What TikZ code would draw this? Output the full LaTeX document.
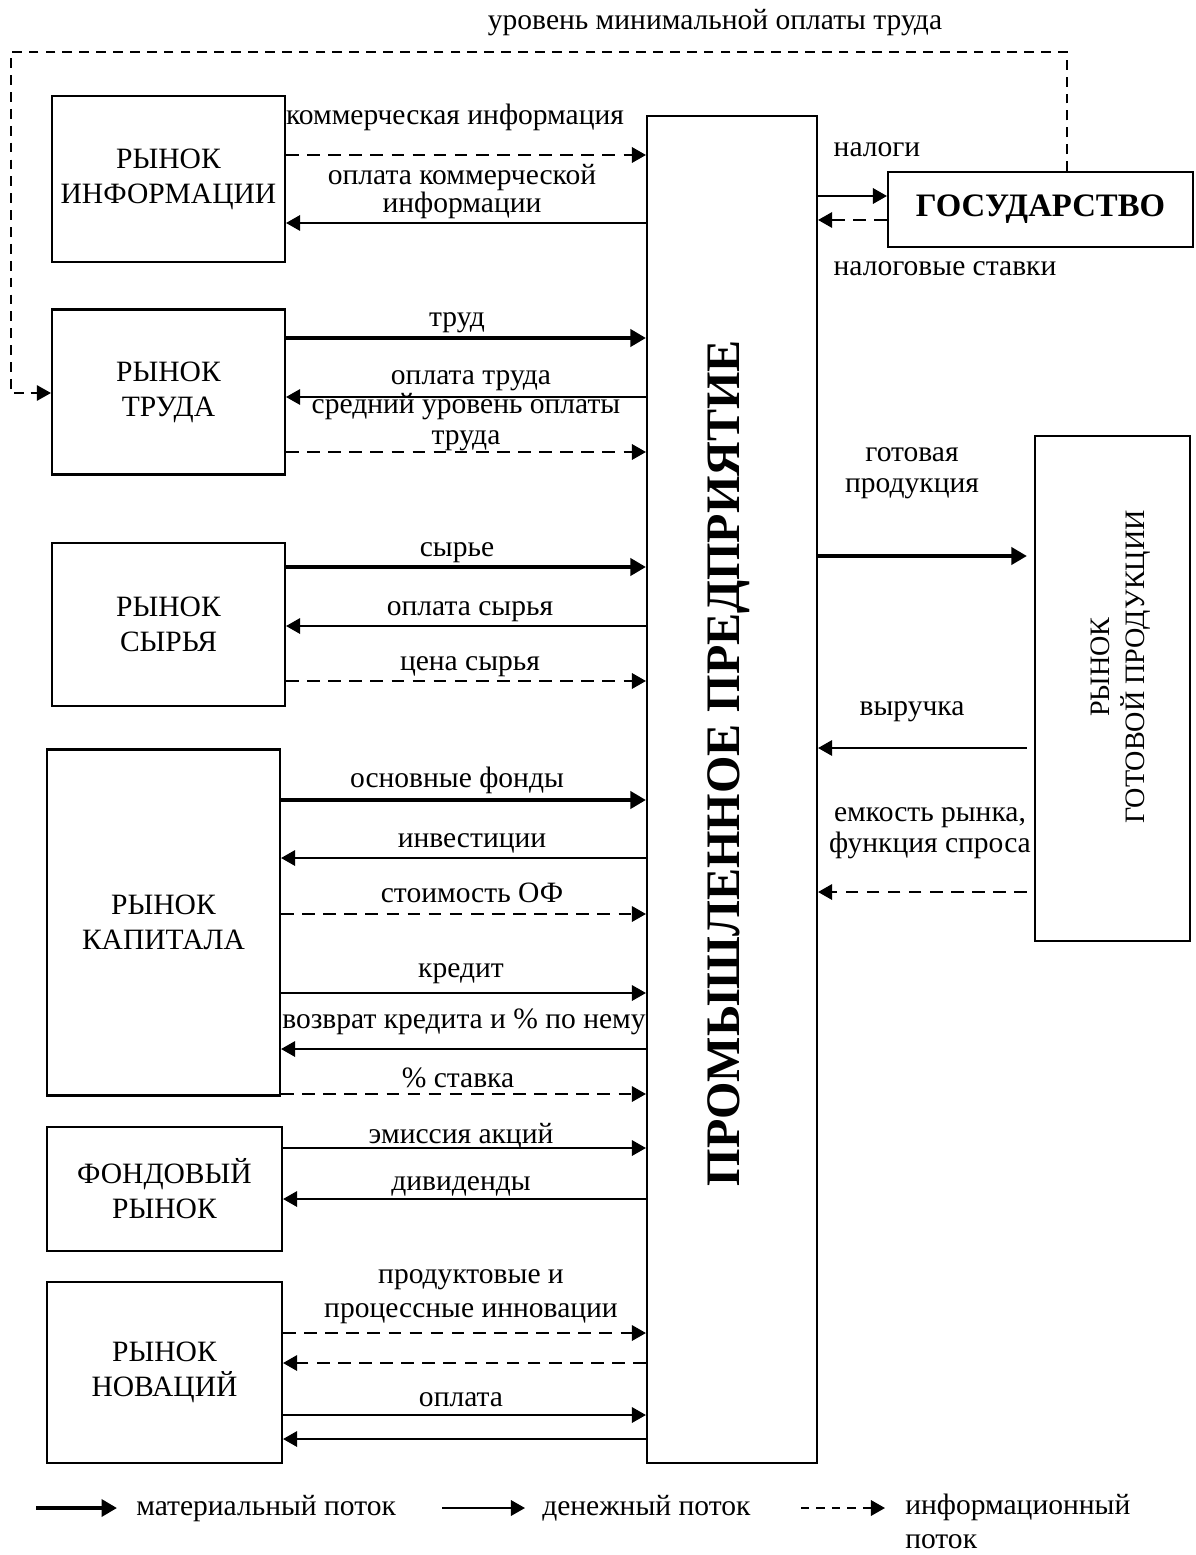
\documentclass[tikz,border=0pt]{standalone}
\usepackage{fontspec}
\setmainfont{Liberation Serif}
\usetikzlibrary{arrows.meta}
\newdimen\px
\px=0.025cm
\tikzset{
	market/.style={draw, line width=1.5pt, align=center, inner sep=0pt, font=\fontsize{21}{25}\selectfont},
	lbl/.style={align=center, inner sep=0pt, anchor=base, font=\fontsize{21}{22}\selectfont},
	matflow/.style={line width=3.5pt, -{Triangle[length=11pt,width=12pt]}},
	cashflow/.style={line width=1.4pt, -{Triangle[length=10pt,width=11pt]}},
	infoflow/.style={cashflow, dash pattern=on 9pt off 6pt},
	feedback/.style={line width=1pt, dash pattern=on 7pt off 5pt, -{Triangle[length=10pt,width=11pt]}}
}

\begin{document}
\begin{tikzpicture}[x=0.025cm, y=-0.025cm]
	\useasboundingbox (0,0) rectangle (1195,1555);
	% markets on the left
	\node[market, minimum width=233\px, minimum height=166\px] (info) at (168.5,179) {РЫНОК\\ИНФОРМАЦИИ};
	\node[market, minimum width=233\px, minimum height=165\px] (labor) at (168.5,392) {РЫНОК\\ТРУДА};
	\node[market, minimum width=233\px, minimum height=163\px] (raw) at (168.5,624.5) {РЫНОК\\СЫРЬЯ};
	\node[market, minimum width=233\px, minimum height=346\px] (capital) at (163.5,922.5) {РЫНОК\\КАПИТАЛА};
	\node[market, minimum width=235\px, minimum height=124\px] (stock) at (164.5,1189) {ФОНДОВЫЙ\\РЫНОК};
	\node[market, minimum width=235\px, minimum height=181\px] (innov) at (164.5,1372.5) {РЫНОК\\НОВАЦИЙ};
	% enterprise, state, product market
	\node[draw, line width=1.5pt, minimum width=170\px, minimum height=1347\px] (firm) at (732,789.5) {};
	\node[rotate=90, anchor=base, inner sep=0pt, font=\fontsize{34.2}{40}\selectfont\bfseries] (firmtitle) at (739,763) {ПРОМЫШЛЕННОЕ ПРЕДПРИЯТИЕ};
	\node[draw, line width=1.5pt, minimum width=305\px, minimum height=75\px, font=\fontsize{23.3}{28}\selectfont\bfseries] (state) at (1040.5,209.5) {ГОСУДАРСТВО};
	\node[draw, line width=1.5pt, minimum width=155\px, minimum height=505\px] (goods) at (1112.5,688.5) {};
	\node[rotate=90, align=center, inner sep=0pt, font=\fontsize{20}{25}\selectfont] (goodstitle) at (1121,667) {РЫНОК\\ГОТОВОЙ ПРОДУКЦИИ};

	% information market
	\draw[infoflow] (info.east |- 0,155) -- (firm.west |- 0,155);
	\draw[cashflow] (firm.west |- 0,223) -- (info.east |- 0,223);
	\node[lbl] (l-ci) at (455,125) {коммерческая информация};
	\node[lbl, font=\fontsize{21}{20}\selectfont] (l-pci) at (462,213) {оплата коммерческой\\информации};
	% labour market
	\draw[matflow] (labor.east |- 0,338) -- (firm.west |- 0,338);
	\draw[cashflow] (firm.west |- 0,397) -- (labor.east |- 0,397);
	\draw[infoflow] (labor.east |- 0,452) -- (firm.west |- 0,452);
	\node[lbl] (l-tr) at (457,327) {труд};
	\node[lbl] (l-ptr) at (471,385) {оплата труда};
	\node[lbl] (l-sur) at (466,444) {средний уровень оплаты\\труда};
	% raw materials
	\draw[matflow] (raw.east |- 0,567) -- (firm.west |- 0,567);
	\draw[cashflow] (firm.west |- 0,626) -- (raw.east |- 0,626);
	\draw[infoflow] (raw.east |- 0,681) -- (firm.west |- 0,681);
	\node[lbl] (l-s) at (457,556) {сырье};
	\node[lbl] (l-ps) at (470,615) {оплата сырья};
	\node[lbl] (l-cs) at (470,670) {цена сырья};
	% capital market
	\draw[matflow] (capital.east |- 0,800) -- (firm.west |- 0,800);
	\draw[cashflow] (firm.west |- 0,858) -- (capital.east |- 0,858);
	\draw[infoflow] (capital.east |- 0,914) -- (firm.west |- 0,914);
	\draw[cashflow] (capital.east |- 0,993) -- (firm.west |- 0,993);
	\draw[cashflow] (firm.west |- 0,1049) -- (capital.east |- 0,1049);
	\draw[infoflow] (capital.east |- 0,1094) -- (firm.west |- 0,1094);
	\node[lbl] (l-of) at (457,787) {основные фонды};
	\node[lbl] (l-inv) at (472,847) {инвестиции};
	\node[lbl] (l-cof) at (472,902) {стоимость ОФ};
	\node[lbl] (l-kr) at (461,977) {кредит};
	\node[lbl] (l-vk) at (464,1028) {возврат кредита и \% по нему};
	\node[lbl] (l-st) at (458,1087) {\% ставка};
	% stock market
	\draw[cashflow] (stock.east |- 0,1148) -- (firm.west |- 0,1148);
	\draw[cashflow] (firm.west |- 0,1199) -- (stock.east |- 0,1199);
	\node[lbl] (l-em) at (461,1143) {эмиссия акций};
	\node[lbl] (l-div) at (461,1190) {дивиденды};
	% innovations
	\draw[infoflow] (innov.east |- 0,1333) -- (firm.west |- 0,1333);
	\draw[infoflow] (firm.west |- 0,1363) -- (innov.east |- 0,1363);
	\draw[cashflow] (innov.east |- 0,1415) -- (firm.west |- 0,1415);
	\draw[cashflow] (firm.west |- 0,1439) -- (innov.east |- 0,1439);
	\node[lbl, font=\fontsize{21}{24}\selectfont] (l-pi) at (471,1317) {продуктовые и\\процессные инновации};
	\node[lbl] (l-op) at (461,1406) {оплата};

	% state
	\draw[cashflow] (firm.east |- 0,196) -- (state.west |- 0,196);
	\draw[infoflow] (state.west |- 0,220) -- (firm.east |- 0,220);
	\node[lbl] (l-nal) at (877,157) {налоги};
	\node[lbl] (l-ns) at (945,276) {налоговые ставки};
	\draw[feedback] (state.north -| 1067,0) -- (1067,52) -- (11,52) -- (11,393) -- (labor.west |- 0,393);
	\node[lbl] (l-mop) at (715,30) {уровень минимальной оплаты труда};

	% product market
	\draw[matflow, shorten >=5pt] (firm.east |- 0,556) -- (goods.west |- 0,556);
	\draw[cashflow, shorten <=5pt] (goods.west |- 0,748) -- (firm.east |- 0,748);
	\draw[infoflow, shorten <=5pt] (goods.west |- 0,892) -- (firm.east |- 0,892);
	\node[lbl, font=\fontsize{21}{21.5}\selectfont] (l-gp) at (912,492) {готовая\\продукция};
	\node[lbl] (l-vr) at (912,715) {выручка};
	\node[lbl, font=\fontsize{21}{21.5}\selectfont] (l-er) at (930,852) {емкость рынка,\\функция спроса};

	% legend
	\coordinate (lgA) at (36,1508);
	\coordinate (lgB) at (117,1508);
	\coordinate (lgC) at (442,1508);
	\coordinate (lgD) at (525,1508);
	\coordinate (lgE) at (801,1508);
	\coordinate (lgF) at (885,1508);
	\draw[matflow] (lgA) -- (lgB);
	\draw[cashflow] (lgC) -- (lgD);
	\draw[infoflow, dash pattern=on 6pt off 5pt] (lgE) -- (lgF);
	\node[lbl, anchor=base west] (lg-m) at (136,1515) {материальный поток};
	\node[lbl, anchor=base west] (lg-d) at (542,1515) {денежный поток};
	\node[lbl, anchor=base west, align=left, font=\fontsize{21}{23.5}\selectfont] (lg-i) at (905,1548) {информационный\\поток};
\end{tikzpicture}
\end{document}
